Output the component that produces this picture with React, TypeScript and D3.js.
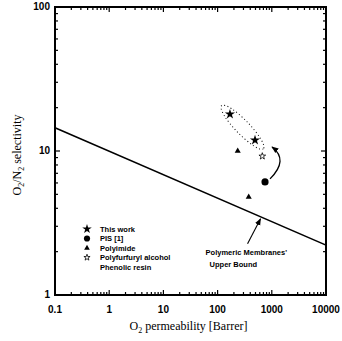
import { useEffect, useRef } from 'react';
import * as d3 from 'd3';

// O2 permeability (Barrer) / O2/N2 selectivity
const thisWork = [
  { p: 169, s: 18.0 },
  { p: 490, s: 11.9 },
];
const pis = [{ p: 750, s: 6.1 }];
const polyimide = [
  { p: 235, s: 10.0 },
  { p: 375, s: 4.8 },
];
const polyfurfuryl = [{ p: 668, s: 9.2 }];
const upperBound = [
  { p: 0.1, s: 14.5 },
  { p: 10000, s: 2.22 },
];

const xTicks = [0.1, 1, 10, 100, 1000, 10000];
const yTicks = [1, 10, 100];
const legendLabels = ['This work', 'PIS [1]', 'Polyimide', 'Polyfurfuryl alcohol', 'Phenolic resin'];

export default function App() {
  const svgRef = useRef<SVGSVGElement>(null);

  useEffect(() => {
    if (!svgRef.current) return;
    const width = 342;
    const height = 341;
    const margin = { top: 7, right: 16, bottom: 46, left: 55 };
    const innerW = width - margin.left - margin.right;
    const innerH = height - margin.top - margin.bottom;

    const svg = d3.select(svgRef.current);
    svg.selectAll('*').remove();

    const x = d3.scaleLog().domain([0.1, 10000]).range([0, innerW]);
    const y = d3.scaleLog().domain([1, 100]).range([innerH, 0]);

    const g = svg.append('g').attr('transform', `translate(${margin.left},${margin.top})`);

    // minor + major ticks for log scales
    const minorX: number[] = [];
    for (let e = -1; e < 4; e++) for (let k = 2; k < 10; k++) minorX.push(k * Math.pow(10, e));
    const minorY: number[] = [];
    for (let e = 0; e < 2; e++) for (let k = 2; k < 10; k++) minorY.push(k * Math.pow(10, e));

    const tickG = g.append('g').attr('stroke', '#000').attr('stroke-width', 1.2);
    const drawX = (vals: number[], len: number) => {
      vals.forEach((v) => {
        tickG.append('line').attr('x1', x(v)).attr('x2', x(v)).attr('y1', innerH).attr('y2', innerH - len);
        tickG.append('line').attr('x1', x(v)).attr('x2', x(v)).attr('y1', 0).attr('y2', len);
      });
    };
    const drawY = (vals: number[], len: number) => {
      vals.forEach((v) => {
        tickG.append('line').attr('y1', y(v)).attr('y2', y(v)).attr('x1', 0).attr('x2', len);
        tickG.append('line').attr('y1', y(v)).attr('y2', y(v)).attr('x1', innerW).attr('x2', innerW - len);
      });
    };
    drawX(minorX, 3);
    drawX(xTicks, 5);
    drawY(minorY, 3);
    drawY(yTicks, 5);

    // frame
    g.append('rect')
      .attr('width', innerW)
      .attr('height', innerH)
      .attr('fill', 'none')
      .attr('stroke', '#000')
      .attr('stroke-width', 2);

    // tick labels
    g.selectAll('.xl')
      .data(xTicks)
      .join('text')
      .attr('x', (d) => x(d))
      .attr('y', innerH + 18)
      .attr('text-anchor', 'middle')
      .style('font-family', '"Liberation Sans", Arial, sans-serif')
      .style('font-size', '10px')
      .style('font-weight', 'bold')
      .text((d) => String(d));

    g.selectAll('.yl')
      .data(yTicks)
      .join('text')
      .attr('x', -5)
      .attr('y', (d) => y(d) + 3)
      .attr('text-anchor', 'end')
      .style('font-family', '"Liberation Sans", Arial, sans-serif')
      .style('font-size', '10px')
      .style('font-weight', 'bold')
      .text((d) => String(d));

    // axis titles
    const xt = svg
      .append('text')
      .attr('x', margin.left + innerW / 2 - 2)
      .attr('y', height - 11)
      .attr('text-anchor', 'middle')
      .style('font-family', '"Liberation Serif", "Times New Roman", serif')
      .style('font-size', '12px');
    xt.append('tspan').text('O');
    xt.append('tspan').attr('dy', 3).style('font-size', '8px').text('2');
    xt.append('tspan').attr('dy', -3).text(' permeability [Barrer]');

    const yt = svg
      .append('text')
      .attr('transform', `translate(21,${margin.top + innerH / 2 + 4}) rotate(-90)`)
      .attr('text-anchor', 'middle')
      .style('font-family', '"Liberation Serif", "Times New Roman", serif')
      .style('font-size', '12px');
    yt.append('tspan').text('O');
    yt.append('tspan').attr('dy', 3).style('font-size', '8px').text('2');
    yt.append('tspan').attr('dy', -3).text('/N');
    yt.append('tspan').attr('dy', 3).style('font-size', '8px').text('2');
    yt.append('tspan').attr('dy', -3).text(' selectivity');

    // upper bound line
    const line = d3
      .line<{ p: number; s: number }>()
      .x((d) => x(d.p))
      .y((d) => y(d.s));
    g.append('path')
      .datum(upperBound)
      .attr('d', line)
      .attr('fill', 'none')
      .attr('stroke', '#000')
      .attr('stroke-width', 1.6);

    // markers
    const star = d3.symbol().type(d3.symbolStar);
    const tri = d3.symbol().type(d3.symbolTriangle);
    const circ = d3.symbol().type(d3.symbolCircle);

    thisWork.forEach((d) =>
      g.append('path').attr('d', star.size(32)()).attr('transform', `translate(${x(d.p)},${y(d.s)})`).attr('fill', '#000')
    );
    pis.forEach((d) =>
      g.append('path').attr('d', circ.size(40)()).attr('transform', `translate(${x(d.p)},${y(d.s)})`).attr('fill', '#000')
    );
    polyimide.forEach((d) =>
      g.append('path').attr('d', tri.size(16)()).attr('transform', `translate(${x(d.p)},${y(d.s)})`).attr('fill', '#000')
    );
    polyfurfuryl.forEach((d) =>
      g
        .append('path')
        .attr('d', star.size(14)())
        .attr('transform', `translate(${x(d.p)},${y(d.s)})`)
        .attr('fill', 'none')
        .attr('stroke', '#000')
        .attr('stroke-width', 0.8)
    );

    // dotted ellipse around this work
    const a = thisWork[0];
    const b = thisWork[1];
    const cx = (x(a.p) + x(b.p)) / 2;
    const cy = (y(a.s) + y(b.s)) / 2;
    const ang = (Math.atan2(y(b.s) - y(a.s), x(b.p) - x(a.p)) * 180) / Math.PI;
    const half = Math.hypot(x(b.p) - x(a.p), y(b.s) - y(a.s)) / 2;
    g.append('ellipse')
      .attr('cx', cx)
      .attr('cy', cy)
      .attr('rx', half + 12)
      .attr('ry', 7)
      .attr('transform', `rotate(${ang},${cx},${cy})`)
      .attr('fill', 'none')
      .attr('stroke', '#000')
      .attr('stroke-width', 1)
      .attr('stroke-dasharray', '1,2.5');

    // arrowheads
    const defs = svg.append('defs');
    defs
      .append('marker')
      .attr('id', 'ah')
      .attr('viewBox', '0 0 10 10')
      .attr('refX', 9)
      .attr('refY', 5)
      .attr('markerWidth', 7)
      .attr('markerHeight', 7)
      .attr('markerUnits', 'userSpaceOnUse')
      .attr('orient', 'auto')
      .append('path')
      .attr('d', 'M0,1 L10,5 L0,9 Z')
      .attr('fill', '#000');

    // curved arrow from PIS to this work
    const px = x(pis[0].p);
    const py = y(pis[0].s);
    const curve = d3.path();
    curve.moveTo(px + 5, py - 3);
    curve.quadraticCurveTo(px + 24, py - 22, px + 7, py - 35);
    g.append('path')
      .attr('d', curve.toString())
      .attr('fill', 'none')
      .attr('stroke', '#000')
      .attr('stroke-width', 1.3)
      .attr('marker-end', 'url(#ah)');

    // annotation for upper bound
    const annP = 620;
    const annS = Math.exp(
      d3.scaleLinear()
        .domain([Math.log(upperBound[0].p), Math.log(upperBound[1].p)])
        .range([Math.log(upperBound[0].s), Math.log(upperBound[1].s)])(Math.log(annP))
    );
    const ax = x(annP);
    const ay = y(annS);
    g.append('line')
      .attr('x1', ax - 13)
      .attr('y1', ay + 27)
      .attr('x2', ax)
      .attr('y2', ay + 2)
      .attr('stroke', '#000')
      .attr('stroke-width', 1.1)
      .attr('marker-end', 'url(#ah)');
    const ann = g
      .append('text')
      .attr('x', ax - 55)
      .attr('y', ay + 38)
      .style('font-family', '"Liberation Sans", Arial, sans-serif')
      .style('font-size', '7.5px')
      .style('font-weight', 'bold');
    ann.append('tspan').text("Polymeric Membranes'");
    ann.append('tspan').attr('x', ax - 51).attr('dy', 12).text('Upper Bound');

    // legend
    const lg = g.append('g').attr('transform', 'translate(32,222)');
    const legSym = [
      { d: star.size(28)(), fill: '#000', stroke: 'none' },
      { d: circ.size(30)(), fill: '#000', stroke: 'none' },
      { d: tri.size(14)(), fill: '#000', stroke: 'none' },
      { d: star.size(12)(), fill: 'none', stroke: '#000' },
      null,
    ];
    legendLabels.forEach((lab, i) => {
      const ry = i * 9.5;
      const s = legSym[i];
      if (s) {
        lg.append('path')
          .attr('d', s.d)
          .attr('transform', `translate(0,${ry})`)
          .attr('fill', s.fill)
          .attr('stroke', s.stroke)
          .attr('stroke-width', 0.8);
      }
      lg.append('text')
        .attr('x', 13)
        .attr('y', ry + 2.7)
        .style('font-family', '"Liberation Sans", Arial, sans-serif')
        .style('font-size', '7.5px')
        .style('font-weight', 'bold')
        .text(lab);
    });
  }, []);

  return (
    <svg
      ref={svgRef}
      width={342}
      height={341}
      style={{ position: 'absolute', left: 0, top: 0, background: '#fff' }}
    />
  );
}
